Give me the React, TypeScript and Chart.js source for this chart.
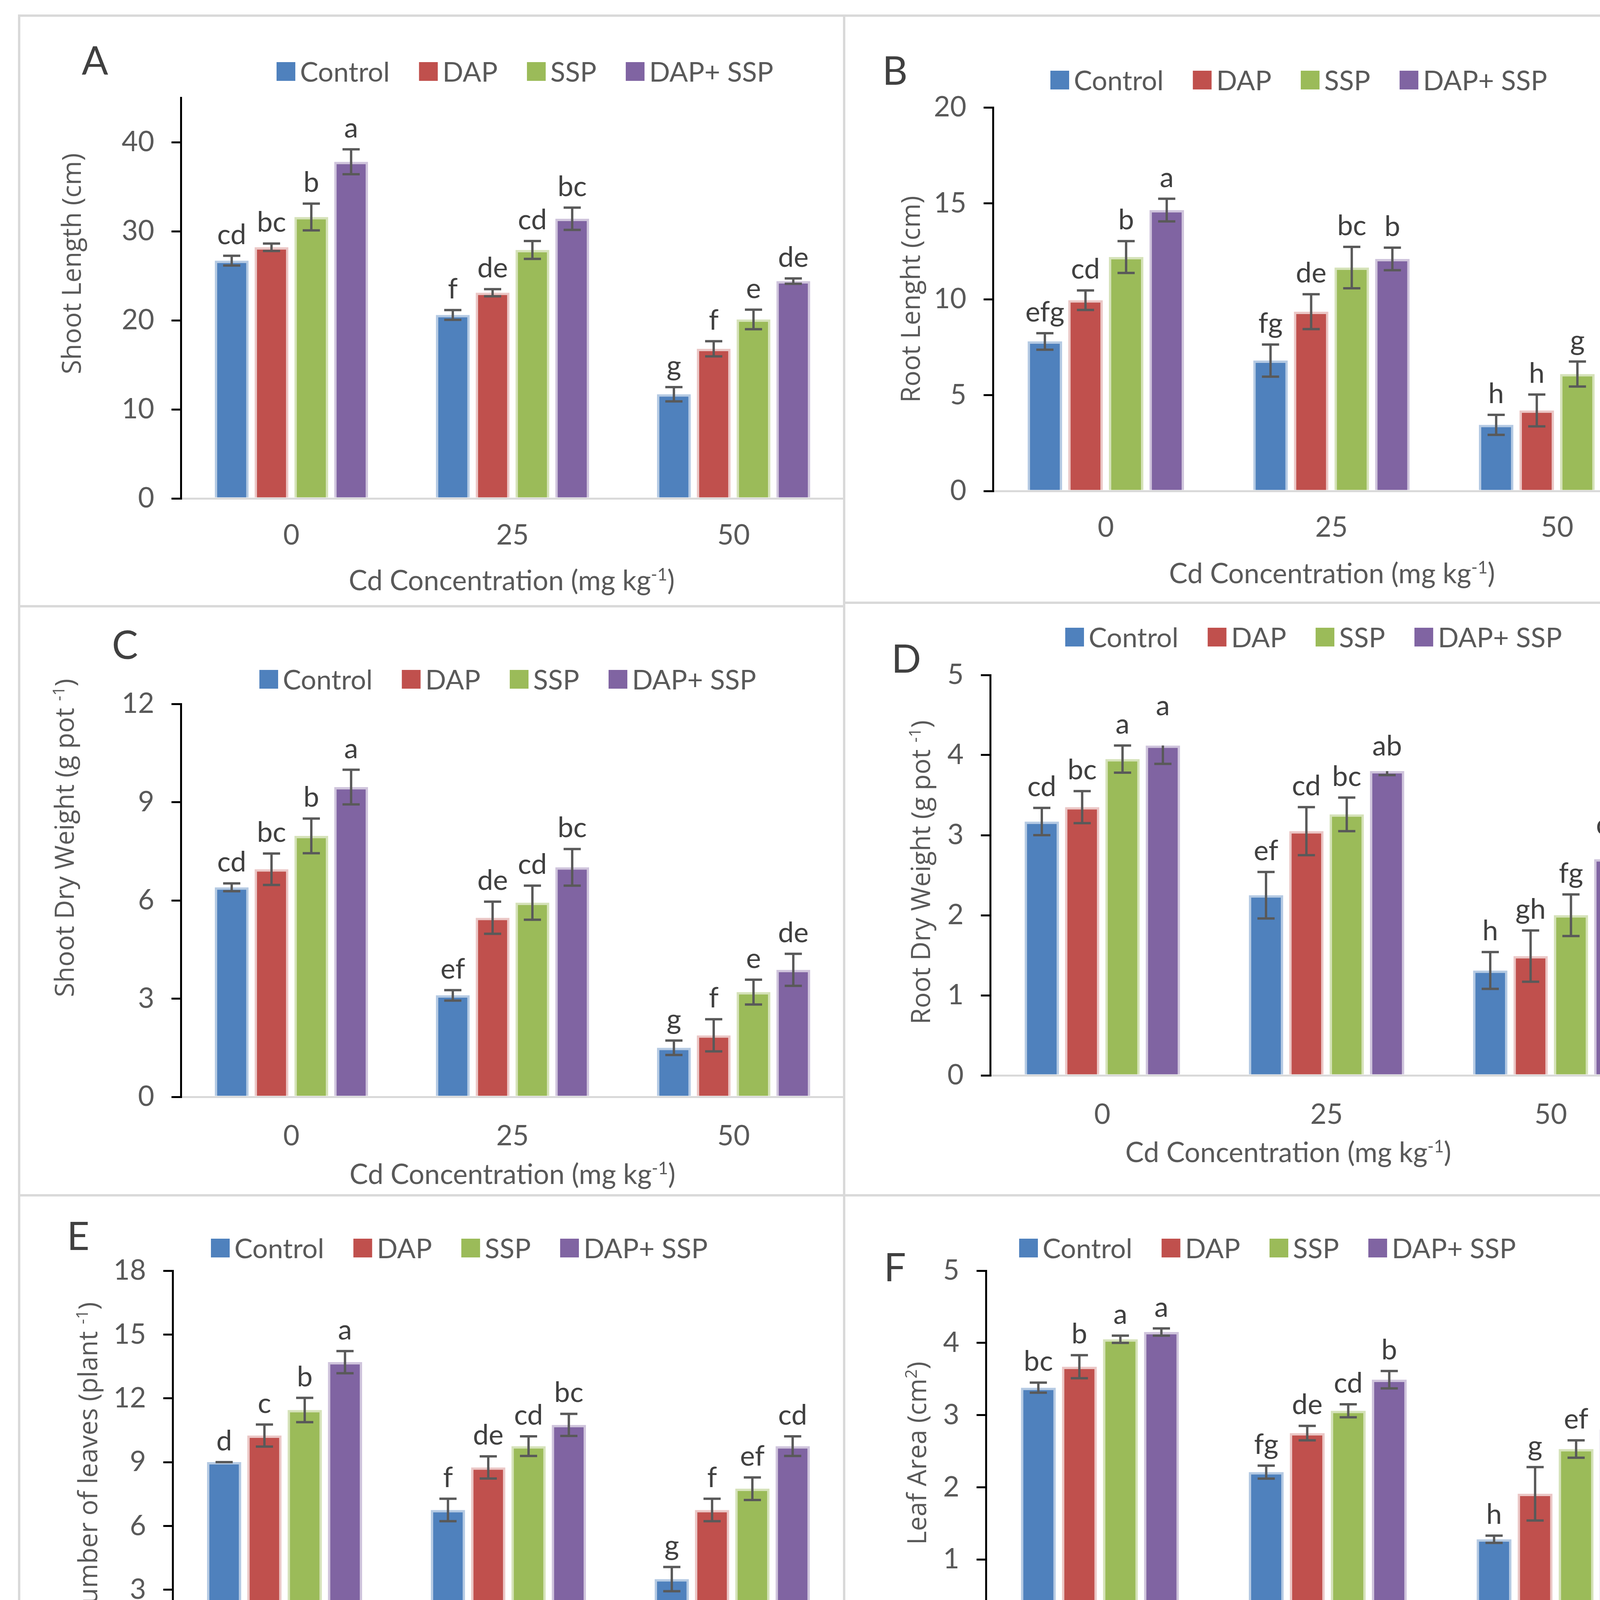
import React, { useEffect, useRef } from 'react';
import { Chart, registerables } from 'chart.js';

Chart.register(...registerables);

const TEXT_FONT = 'Lato, "Noto Sans", sans-serif';
const TITLE_FONT = '"Open Sans", "Noto Sans", sans-serif';

// ---------- shared ----------
const categories = ['0', '25', '50'];
const seriesNames = ['Control', 'DAP', 'SSP', 'DAP+ SSP'];
const seriesColors = ['#4F81BD', '#C0504D', '#9BBB59', '#8064A2'];
const seriesEdges = ['rgba(79,129,189,0.42)', 'rgba(192,80,77,0.32)', 'rgba(155,187,89,0.42)', 'rgba(128,100,162,0.38)'];

// ---------- A: shoot length ----------
const shootLengthValues = [[26.7, 20.6, 11.7], [28.2, 23.1, 16.8], [31.6, 27.9, 20.1], [37.8, 31.4, 24.4]];
const shootLengthErrors = [[0.55, 0.55, 0.8], [0.42, 0.4, 0.85], [1.5, 1.0, 1.1], [1.4, 1.25, 0.3]];
const shootLengthLetters = [['cd', 'f', 'g'], ['bc', 'de', 'f'], ['b', 'cd', 'e'], ['a', 'bc', 'de']];
const shootLengthTicks = [0, 10, 20, 30, 40];

// ---------- B: root length ----------
const rootLengthValues = [[7.8, 6.8, 3.45], [9.95, 9.35, 4.2], [12.2, 11.65, 6.1], [14.65, 12.1, 7.95]];
const rootLengthErrors = [[0.43, 0.84, 0.52], [0.51, 0.91, 0.83], [0.83, 1.08, 0.65], [0.59, 0.59, 0.44]];
const rootLengthLetters = [['efg', 'fg', 'h'], ['cd', 'de', 'h'], ['b', 'bc', 'g'], ['a', 'b', 'ef']];
const rootLengthTicks = [0, 5, 10, 15, 20];

// ---------- C: shoot dry weight ----------
const shootDryValues = [[6.4, 3.1, 1.5], [6.95, 5.47, 1.88], [7.97, 5.93, 3.2], [9.46, 7.01, 3.88]];
const shootDryErrors = [[0.12, 0.16, 0.22], [0.48, 0.49, 0.49], [0.53, 0.52, 0.38], [0.53, 0.56, 0.49]];
const shootDryLetters = [['cd', 'ef', 'g'], ['bc', 'de', 'f'], ['b', 'cd', 'e'], ['a', 'bc', 'de']];
const shootDryTicks = [0, 3, 6, 9, 12];

// ---------- D: root dry weight ----------
const rootDryValues = [[3.17, 2.25, 1.31], [3.35, 3.05, 1.49], [3.95, 3.26, 2.0], [4.12, 3.8, 2.7]];
const rootDryErrors = [[0.17, 0.29, 0.23], [0.2, 0.3, 0.32], [0.17, 0.21, 0.26], [0.23, 0.05, 0.17]];
const rootDryLetters = [['cd', 'ef', 'h'], ['bc', 'cd', 'gh'], ['a', 'bc', 'fg'], ['a', 'ab', 'de']];
const rootDryTicks = [0, 1, 2, 3, 4, 5];

// ---------- E: number of leaves ----------
const leavesValues = [[9.0, 6.75, 3.5], [10.25, 8.75, 6.75], [11.45, 9.75, 7.75], [13.7, 10.75, 9.75]];
const leavesErrors = [[0, 0.53, 0.57], [0.52, 0.52, 0.53], [0.57, 0.46, 0.53], [0.52, 0.52, 0.46]];
const leavesLetters = [['d', 'f', 'g'], ['c', 'de', 'f'], ['b', 'cd', 'ef'], ['a', 'bc', 'cd']];
const leavesTicks = [0, 3, 6, 9, 12, 15, 18];

// ---------- F: leaf area ----------
const leafAreaValues = [[3.38, 2.21, 1.28], [3.67, 2.75, 1.91], [4.05, 3.06, 2.53], [4.15, 3.49, 2.8]];
const leafAreaErrors = [[0.07, 0.09, 0.05], [0.16, 0.1, 0.37], [0.05, 0.09, 0.12], [0.05, 0.12, 0.18]];
const leafAreaLetters = [['bc', 'fg', 'h'], ['b', 'de', 'g'], ['a', 'cd', 'ef'], ['a', 'b', 'de']];
const leafAreaTicks = [0, 1, 2, 3, 4, 5];

type Part = { t: string; sup?: boolean };
const xTitle: Part[] = [{ t: 'Cd Concentration (mg kg' }, { t: '-1', sup: true }, { t: ')' }];

interface PanelDef {
  letter: string;
  values: number[][];
  errors: number[][];
  letters: string[][];
  ticks: number[];
  max: number;
  lowerOnly?: number[];
  yTitle: Part[];
  box: [number, number, number, number];
  plot: { left: number; right: number; top: number; bottom: number };
  letterPos: [number, number];
  legendPos: [number, number];
  yTitlePos: [number, number];
  xTitlePos: [number, number];
  xLabelY: number;
}

const panels: PanelDef[] = [
  {
    letter: 'A', values: shootLengthValues, errors: shootLengthErrors, letters: shootLengthLetters,
    ticks: shootLengthTicks, max: 45, yTitle: [{ t: 'Shoot Length (cm)' }],
    box: [49, 40, 2112, 1512], plot: { left: 463, right: 2161, top: 250, bottom: 1276 },
    letterPos: [243, 155], legendPos: [708, 183], yTitlePos: [186, 675], xTitlePos: [1310, 1490], xLabelY: 1371,
  },
  {
    letter: 'B', values: rootLengthValues, errors: rootLengthErrors, letters: rootLengthLetters,
    ticks: rootLengthTicks, max: 20, yTitle: [{ t: 'Root Lenght (cm)' }],
    box: [2161, 40, 2114, 1503], plot: { left: 2542, right: 4275, top: 275, bottom: 1257 },
    letterPos: [2291, 181], legendPos: [2689, 205], yTitlePos: [2334, 766], xTitlePos: [3410, 1472], xLabelY: 1351,
  },
  {
    letter: 'C', values: shootDryValues, errors: shootDryErrors, letters: shootDryLetters,
    ticks: shootDryTicks, max: 12,
    yTitle: [{ t: 'Shoot Dry Weight (g pot ' }, { t: '-1', sup: true }, { t: ')' }],
    box: [49, 1552, 2112, 1508], plot: { left: 463, right: 2161, top: 1802, bottom: 2808 },
    letterPos: [320, 1651], legendPos: [664, 1739], yTitlePos: [168, 2145], xTitlePos: [1312, 3010], xLabelY: 2909,
  },
  {
    letter: 'D', values: rootDryValues, errors: rootDryErrors, letters: rootDryLetters,
    ticks: rootDryTicks, max: 5, lowerOnly: [3],
    yTitle: [{ t: 'Root Dry Weight (g pot ' }, { t: '-1', sup: true }, { t: ')' }],
    box: [2161, 1543, 2114, 1517], plot: { left: 2535, right: 4257, top: 1728, bottom: 2753 },
    letterPos: [2320, 1686], legendPos: [2727, 1631], yTitlePos: [2360, 2233], xTitlePos: [3298, 2954], xLabelY: 2854,
  },
  {
    letter: 'E', values: leavesValues, errors: leavesErrors, letters: leavesLetters,
    ticks: leavesTicks, max: 18,
    yTitle: [{ t: 'Number of leaves (plant ' }, { t: '-1', sup: true }, { t: ')' }],
    box: [49, 3060, 2112, 1506], plot: { left: 442, right: 2161, top: 3253, bottom: 4233 },
    letterPos: [200, 3164], legendPos: [540, 3195], yTitlePos: [228, 3745], xTitlePos: [1306, 4449], xLabelY: 4327,
  },
  {
    letter: 'F', values: leafAreaValues, errors: leafAreaErrors, letters: leafAreaLetters,
    ticks: leafAreaTicks, max: 5,
    yTitle: [{ t: 'Leaf Area (cm' }, { t: '2', sup: true }, { t: ')' }],
    box: [2161, 3060, 2114, 1506], plot: { left: 2524, right: 4274, top: 3253, bottom: 4177 },
    letterPos: [2291, 3244], legendPos: [2609, 3195], yTitlePos: [2350, 3720], xTitlePos: [3398, 4400], xLabelY: 4278,
  },
];

const TICK_SIZE = 72;
const LABEL_SIZE = 72;
const LEGEND_SIZE = 70;
const LEGEND_BOX = 48;
const LEGEND_BOX_GAP = 12;
const LEGEND_ITEM_GAP = 75;
const XTITLE_SIZE = 71;
const YTITLE_SIZE = 67;
const PANEL_LETTER_SIZE = 100;

function drawRich(ctx: CanvasRenderingContext2D, parts: Part[], x: number, y: number, size: number, family: string, color: string) {
  const supSize = size * 0.62;
  const widths = parts.map((p) => {
    ctx.font = `${p.sup ? supSize : size}px ${family}`;
    return ctx.measureText(p.t).width;
  });
  const total = widths.reduce((a, b) => a + b, 0);
  let cx = x - total / 2;
  ctx.fillStyle = color;
  ctx.textAlign = 'left';
  ctx.textBaseline = 'alphabetic';
  parts.forEach((p, i) => {
    ctx.font = `${p.sup ? supSize : size}px ${family}`;
    ctx.fillText(p.t, cx, p.sup ? y - size * 0.36 : y);
    cx += widths[i];
  });
}

function Panel({ def }: { def: PanelDef }) {
  const ref = useRef<HTMLCanvasElement>(null);
  useEffect(() => {
    const canvas = ref.current;
    if (!canvas) return;
    const [bx, by, bw, bh] = def.box;
    const relLeft = def.plot.left - bx;
    const topPad = def.plot.top - by;
    const rightPad = bx + bw - def.plot.right;
    const xAxisH = by + bh - def.plot.bottom;

    const overlay = {
      id: 'overlay' + def.letter,
      afterDatasetsDraw(chart: any) {
        const ctx: CanvasRenderingContext2D = chart.ctx;
        const yScale = chart.scales.y;
        ctx.save();
        def.values.forEach((vals, si) => {
          const meta = chart.getDatasetMeta(si);
          const lower = (def.lowerOnly || []).includes(si);
          vals.forEach((v, ci) => {
            const el = meta.data[ci];
            const x = el.x;
            const e = def.errors[si][ci];
            const yHi = yScale.getPixelForValue(lower ? v : v + e);
            const yLo = yScale.getPixelForValue(v - e);
            ctx.strokeStyle = '#595959';
            ctx.lineWidth = 6;
            ctx.lineCap = 'butt';
            ctx.beginPath();
            ctx.moveTo(x, yHi);
            ctx.lineTo(x, yLo);
            if (!lower) {
              ctx.moveTo(x - 22, yHi);
              ctx.lineTo(x + 22, yHi);
            }
            ctx.moveTo(x - 22, yLo);
            ctx.lineTo(x + 22, yLo);
            ctx.stroke();
            // significance letter
            const yTxt = yScale.getPixelForValue(v + e) - 30;
            ctx.font = `${LABEL_SIZE}px ${TEXT_FONT}`;
            ctx.fillStyle = '#404040';
            ctx.textAlign = 'center';
            ctx.textBaseline = 'alphabetic';
            ctx.fillText(def.letters[si][ci], x, yTxt);
          });
        });
        ctx.restore();
      },
      afterDraw(chart: any) {
        const ctx: CanvasRenderingContext2D = chart.ctx;
        ctx.save();
        // panel letter
        ctx.font = `${PANEL_LETTER_SIZE}px ${TEXT_FONT}`;
        ctx.fillStyle = '#404040';
        ctx.textAlign = 'center';
        ctx.textBaseline = 'middle';
        ctx.fillText(def.letter, def.letterPos[0] - bx, def.letterPos[1] - by + 4);
        // legend
        let lx = def.legendPos[0] - bx;
        const ly = def.legendPos[1] - by;
        ctx.font = `${LEGEND_SIZE}px ${TEXT_FONT}`;
        ctx.textBaseline = 'middle';
        ctx.textAlign = 'left';
        seriesNames.forEach((name, i) => {
          ctx.fillStyle = seriesColors[i];
          ctx.fillRect(lx, ly - LEGEND_BOX / 2, LEGEND_BOX, LEGEND_BOX);
          lx += LEGEND_BOX + LEGEND_BOX_GAP;
          ctx.fillStyle = '#595959';
          ctx.fillText(name, lx, ly + 3);
          lx += ctx.measureText(name).width + LEGEND_ITEM_GAP;
        });
        // x title
        drawRich(ctx, xTitle, def.xTitlePos[0] - bx, def.xTitlePos[1] - by + XTITLE_SIZE * 0.3, XTITLE_SIZE, TEXT_FONT, '#595959');
        // y title (rotated)
        ctx.translate(def.yTitlePos[0] - bx, def.yTitlePos[1] - by);
        ctx.rotate(-Math.PI / 2);
        drawRich(ctx, def.yTitle, 0, YTITLE_SIZE * 0.32, YTITLE_SIZE, TITLE_FONT, '#595959');
        ctx.restore();
      },
    };

    const chart = new Chart(canvas, {
      type: 'bar',
      data: {
        labels: categories,
        datasets: def.values.map((vals, i) => ({
          label: seriesNames[i],
          data: vals,
          backgroundColor: seriesColors[i],
          borderColor: seriesEdges[i],
          borderWidth: 6,
          borderSkipped: 'start',
          barPercentage: 0.85,
          categoryPercentage: 0.72,
        })),
      },
      options: {
        responsive: false,
        maintainAspectRatio: false,
        animation: false,
        devicePixelRatio: 1,
        events: [],
        layout: { padding: { left: 0, top: topPad, right: rightPad, bottom: 0 } },
        plugins: { legend: { display: false }, tooltip: { enabled: false }, title: { display: false } },
        scales: {
          x: {
            type: 'category',
            offset: true,
            grid: { display: false, drawTicks: false, drawOnChartArea: false },
            border: { display: true, color: '#D9D9D9', width: 5 },
            ticks: {
              color: '#595959',
              font: { family: TEXT_FONT, size: TICK_SIZE },
              padding: def.xLabelY - def.plot.bottom - TICK_SIZE * 0.6,
              maxRotation: 0,
            },
            afterFit: (s: any) => { s.height = xAxisH; },
          },
          y: {
            type: 'linear',
            min: 0,
            max: def.max,
            grid: { display: true, drawOnChartArea: false, drawTicks: true, tickLength: 24, color: '#000000', lineWidth: 5 },
            border: { display: true, color: '#000000', width: 5 },
            ticks: { color: '#595959', font: { family: TEXT_FONT, size: TICK_SIZE }, padding: 44 },
            afterBuildTicks: (s: any) => { s.ticks = def.ticks.map((v) => ({ value: v })); },
            afterFit: (s: any) => { s.width = relLeft; },
          },
        },
      },
      plugins: [overlay],
    } as any);
    return () => chart.destroy();
  }, [def]);
  const [bx, by, bw, bh] = def.box;
  return (
    <canvas
      ref={ref}
      width={bw}
      height={bh}
      style={{ position: 'absolute', left: bx, top: by, width: bw, height: bh }}
    />
  );
}

const BORDER = '#D9D9D9';
const lineStyle = (l: number, t: number, w: number, h: number): React.CSSProperties => ({
  position: 'absolute', left: l, top: t, width: w, height: h, background: BORDER,
});

export default function App() {
  return (
    <div style={{ position: 'absolute', left: 0, top: 0, width: 4321, height: 4615, background: '#ffffff', overflow: 'hidden' }}>
      {panels.map((p) => <Panel key={p.letter} def={p} />)}
      {/* panel frames */}
      <div style={lineStyle(46, 37, 4232, 6)} />
      <div style={lineStyle(46, 4563, 4232, 6)} />
      <div style={lineStyle(46, 37, 6, 4532)} />
      <div style={lineStyle(4272, 37, 6, 4532)} />
      <div style={lineStyle(2158, 37, 6, 4532)} />
      <div style={lineStyle(46, 1549, 2115, 6)} />
      <div style={lineStyle(2161, 1540, 2114, 6)} />
      <div style={lineStyle(46, 3057, 4232, 6)} />
    </div>
  );
}
